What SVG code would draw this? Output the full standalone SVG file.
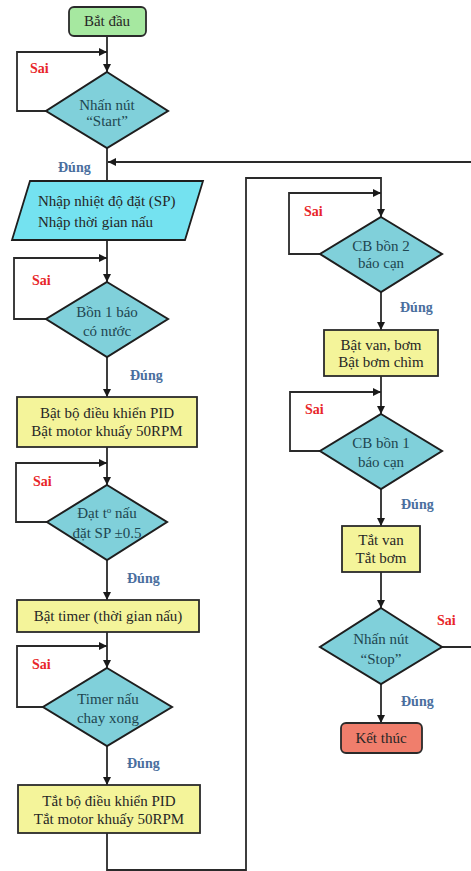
<svg xmlns="http://www.w3.org/2000/svg" width="471" height="871" viewBox="0 0 471 871">
<defs>
<marker id="ah" viewBox="0 0 10 10" refX="10" refY="5" markerWidth="8" markerHeight="8" markerUnits="userSpaceOnUse" orient="auto">
<path d="M0,0 L10,5 L0,10 Z" fill="#1a1a1a"/>
</marker>
<style>
.c{fill:none;stroke:#2a2a2a;stroke-width:1.8}
.a{fill:none;stroke:#2a2a2a;stroke-width:1.8;marker-end:url(#ah)}
.t{font-family:"Liberation Serif","Times New Roman",serif;font-size:15px;fill:#262626;text-anchor:middle}
.dt{font-family:"Liberation Serif","Times New Roman",serif;font-size:15px;fill:#204650;text-anchor:middle}
.sai{font-family:"Liberation Serif","Times New Roman",serif;font-size:14px;font-weight:bold;fill:#e8262a}
.dung{font-family:"Liberation Serif","Times New Roman",serif;font-size:14px;font-weight:bold;fill:#4a6e9e}
.dia{fill:#80d0da;stroke:#1e1e1e;stroke-width:2}
.box{fill:#f4f49a;stroke:#2a2a2a;stroke-width:1.8}
</style>
</defs>
<rect width="471" height="871" fill="#ffffff"/>

<g id="connectors">
<path class="a" d="M107,36 V72"/>
<path class="a" d="M46,111 H17 V52 H107"/>
<path class="c" d="M107,148 V181"/>
<path class="a" d="M442,647 H473 V162 H108"/>
<path class="a" d="M107,240 V282"/>
<path class="a" d="M46,319 H14 V258 H107"/>
<path class="a" d="M107,357 V397"/>
<path class="a" d="M107,447 V485"/>
<path class="a" d="M47,522 H16 V463 H107"/>
<path class="a" d="M107,560 V600"/>
<path class="a" d="M107,632 V668"/>
<path class="a" d="M43,707 H17 V646 H107"/>
<path class="a" d="M107,746 V785"/>
<path class="a" d="M107,833 V870 H246 V178 H381 V217"/>
<path class="a" d="M320,254 H289 V193 H381"/>
<path class="a" d="M381,292 V330"/>
<path class="a" d="M381,376 V414"/>
<path class="a" d="M320,451 H290 V392 H381"/>
<path class="a" d="M381,489 V526"/>
<path class="a" d="M381,572 V608"/>
<path class="a" d="M381,684 V723"/>
<text class="sai" x="30" y="73">Sai</text>
<text class="dung" x="58" y="172">Đúng</text>
<text class="sai" x="32" y="285">Sai</text>
<text class="dung" x="130" y="380">Đúng</text>
<text class="sai" x="33" y="486">Sai</text>
<text class="dung" x="127" y="583">Đúng</text>
<text class="sai" x="32" y="669">Sai</text>
<text class="dung" x="127" y="768">Đúng</text>
<text class="sai" x="304" y="216">Sai</text>
<text class="dung" x="400" y="312">Đúng</text>
<text class="sai" x="305" y="414">Sai</text>
<text class="dung" x="401" y="509">Đúng</text>
<text class="sai" x="437" y="625">Sai</text>
<text class="dung" x="401" y="706">Đúng</text>
</g>

<g id="start">
<rect x="69" y="7" width="77" height="29" rx="5" fill="#a6e8a0" stroke="#2a2a2a" stroke-width="1.8"/>
<text class="t" x="107" y="26">Bắt đầu</text>
</g>

<g id="d-start">
<polygon class="dia" points="107,72 168,111 107,148 46,111"/>
<text class="dt" x="107" y="110">Nhấn nút</text>
<text class="dt" x="107" y="126">“Start”</text>
</g>

<g id="input">
<polygon points="30,181 203,181 185,240 12,240" fill="#74e2f0" stroke="#1e1e1e" stroke-width="1.8"/>
<text class="t" x="38" y="206" style="text-anchor:start">Nhập nhiệt độ đặt (SP)</text>
<text class="t" x="38" y="227" style="text-anchor:start">Nhập thời gian nấu</text>
</g>

<g id="d-bon1">
<polygon class="dia" points="107,282 168,319 107,357 46,319"/>
<text class="dt" x="107" y="317">Bồn 1 báo</text>
<text class="dt" x="107" y="336">có nước</text>
</g>

<g id="pid-on">
<rect class="box" x="17" y="397" width="180" height="50"/>
<text class="t" x="107" y="418">Bật bộ điều khiển PID</text>
<text class="t" x="107" y="436">Bật motor khuấy 50RPM</text>
</g>

<g id="d-temp">
<polygon class="dia" points="107,485 167,522 107,560 47,522"/>
<text class="dt" x="107" y="518">Đạt t<tspan font-size="9" dy="-5">o</tspan><tspan dy="5"> nấu</tspan></text>
<text class="dt" x="107" y="538">đặt SP ±0.5</text>
</g>

<g id="timer-on">
<rect class="box" x="17" y="600" width="182" height="32"/>
<text class="t" x="108" y="621">Bật timer (thời gian nấu)</text>
</g>

<g id="d-timer">
<polygon class="dia" points="107,668 172,707 107,746 43,707"/>
<text class="dt" x="108" y="704">Timer nấu</text>
<text class="dt" x="108" y="723">chay xong</text>
</g>

<g id="pid-off">
<rect class="box" x="18" y="785" width="182" height="48"/>
<text class="t" x="109" y="806">Tắt bộ điều khiển PID</text>
<text class="t" x="109" y="824">Tắt motor khuấy 50RPM</text>
</g>

<g id="d-cb2">
<polygon class="dia" points="381,217 442,254 381,292 320,254"/>
<text class="dt" x="381" y="251">CB bồn 2</text>
<text class="dt" x="381" y="268">báo cạn</text>
</g>

<g id="pump-on">
<rect class="box" x="324" y="330" width="114" height="46"/>
<text class="t" x="381" y="350">Bật van, bơm</text>
<text class="t" x="381" y="367">Bật bơm chìm</text>
</g>

<g id="d-cb1">
<polygon class="dia" points="381,414 442,451 381,489 320,451"/>
<text class="dt" x="381" y="448">CB bồn 1</text>
<text class="dt" x="381" y="467">báo cạn</text>
</g>

<g id="pump-off">
<rect class="box" x="342" y="526" width="78" height="46"/>
<text class="t" x="381" y="545">Tắt van</text>
<text class="t" x="381" y="563">Tắt bơm</text>
</g>

<g id="d-stop">
<polygon class="dia" points="381,608 442,647 381,684 320,647"/>
<text class="dt" x="381" y="644">Nhấn nút</text>
<text class="dt" x="381" y="664">“Stop”</text>
</g>

<g id="end">
<rect x="341" y="723" width="81" height="30" rx="5" fill="#f07e6c" stroke="#2a2a2a" stroke-width="1.8"/>
<text class="t" x="381" y="743">Kết thúc</text>
</g>
</svg>
